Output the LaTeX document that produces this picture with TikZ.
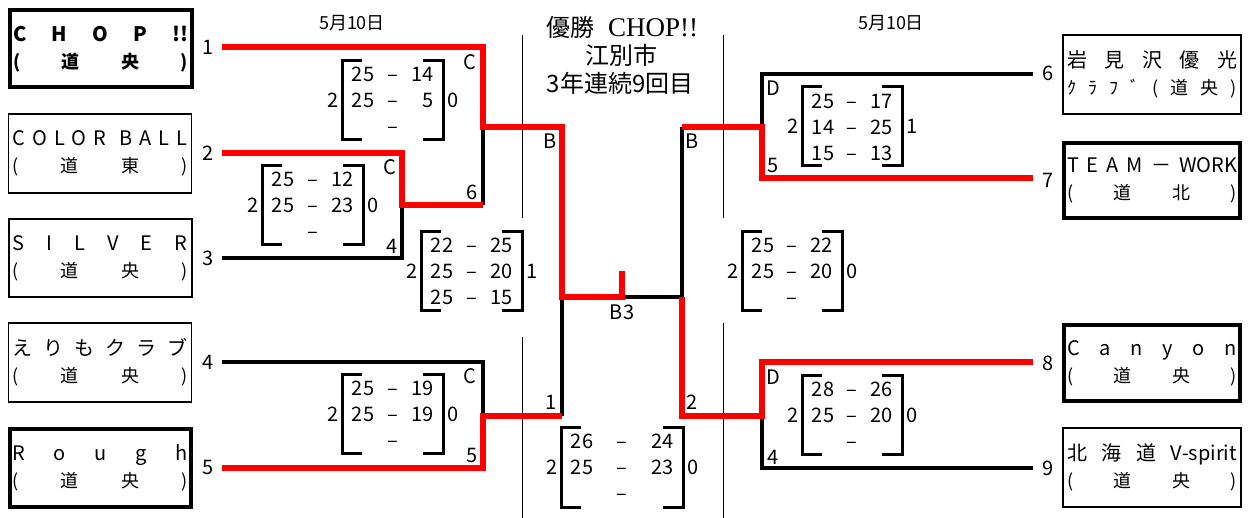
\documentclass[tikz,border=0pt]{standalone}
\usepackage{fontspec}
\setmainfont{Noto Sans CJK JP}
\newfontfamily\titleserif{Liberation Serif}
\tikzset{
  win/.style={draw=red, line width=6pt, line join=miter},
  lose/.style={draw=black, line width=3.2pt, line join=miter},
  brk/.style={draw=black, line width=3pt, line join=miter},
  divider/.style={draw=black, line width=1pt},
  lbl/.style={inner sep=0pt, font=\fontsize{20}{20}\selectfont},
  sc/.style={inner sep=0pt, text height=14.6pt, text depth=0pt, font=\fontsize{20}{20}\selectfont},
  datelbl/.style={inner sep=0pt, font=\fontsize{18}{18}\selectfont},
  tbox/.style={draw, line width=1.2pt, inner sep=0pt, align=center, font=\fontsize{18}{27}\selectfont},
  thickbox/.style={tbox, line width=4pt},
  midbox/.style={tbox, line width=2pt},
}
\newcommand\lineone[1]{\makebox[175pt][s]{\fontsize{20}{27}\selectfont #1}}
\newcommand\linetwo[1]{\makebox[175pt][s]{#1}}
\newcommand\rlineone[1]{\makebox[170pt][s]{\fontsize{20}{27}\selectfont #1}}
\newcommand\rlinetwo[1]{\makebox[170pt][s]{#1}}
\newcommand\brk[6]{%
  \draw[brk] (#2+20,#3) -- (#2,#3) -- (#2,#3+79) -- (#2+20,#3+79);
  \draw[brk] (#2+#4-20,#3) -- (#2+#4,#3) -- (#2+#4,#3+79) -- (#2+#4-20,#3+79);
  \node[sc] (#1l) at (#2-9,#3+39) {#5};
  \node[sc] (#1r) at (#2+#4+10,#3+39) {#6};
}
\newcommand\srow[6]{%
  \node[sc] (#1a) at (#2+21,#3) {#5};
  \node[sc] (#1m) at (#2+#4/2,#3) {–};
  \node[sc,anchor=east] (#1b) at (#2+#4-9,#3) {#6};
}
\newcommand\drow[4]{\node[sc] (#1m) at (#2+#4/2,#3) {–};}
\begin{document}
\begin{tikzpicture}[x=1pt,y=-1pt]
\useasboundingbox (0,0) rectangle (1248,518);
\fill[white] (0,0) rectangle (1248,518);

% ---------- team boxes left ----------
\node[thickbox, minimum width=182pt, minimum height=77pt] (T1) at (100.5,49)
  {\lineone{\bfseries C\hfill H\hfill O\hfill P\hfill !!}\\ \linetwo{\bfseries (\hfill 道\hfill 央\hfill )}};
\node[tbox, minimum width=183pt, minimum height=79pt] (T2) at (100,153.5)
  {\lineone{C\hfill O\hfill L\hfill O\hfill R\hspace{6pt}\hfill B\hfill A\hfill L\hfill L}\\ \linetwo{(\hfill 道\hfill 東\hfill )}};
\node[midbox, minimum width=183pt, minimum height=78pt] (T3) at (100,258)
  {\lineone{S\hfill I\hfill L\hfill V\hfill E\hfill R}\\ \linetwo{(\hfill 道\hfill 央\hfill )}};
\node[tbox, minimum width=183pt, minimum height=79pt] (T4) at (100,362.5)
  {\lineone{え\hfill り\hfill も\hfill ク\hfill ラ\hfill ブ}\\ \linetwo{(\hfill 道\hfill 央\hfill )}};
\node[thickbox, minimum width=181pt, minimum height=77pt] (T5) at (100,468)
  {\lineone{R\hfill o\hfill u\hfill g\hfill h}\\ \linetwo{(\hfill 道\hfill 央\hfill )}};

% ---------- team boxes right ----------
\node[tbox, minimum width=178pt, minimum height=79pt] (T6) at (1152,74.5)
  {\rlineone{岩\hfill 見\hfill 沢\hfill 優\hfill 光}\\ \rlinetwo{ｸ\hfill ﾗ\hfill ﾌ\hfill ﾞ\hfill (\hfill 道\hfill 央\hfill )}};
\node[thickbox, minimum width=176pt, minimum height=75pt] (T7) at (1152,180.5)
  {\rlineone{T\hfill E\hfill A\hfill M\hfill －\hfill WORK}\\ \rlinetwo{(\hfill 道\hfill 北\hfill )}};
\node[thickbox, minimum width=176pt, minimum height=76pt] (T8) at (1152,363)
  {\rlineone{C\hfill a\hfill n\hfill y\hfill o\hfill n}\\ \rlinetwo{(\hfill 道\hfill 央\hfill )}};
\node[tbox, minimum width=178pt, minimum height=79pt] (T9) at (1152,467.5)
  {\rlineone{北\hfill 海\hfill 道\hfill V-spirit}\\ \rlinetwo{(\hfill 道\hfill 央\hfill )}};

% ---------- seed numbers ----------
\node[lbl] (n1) at (208,47) {1};
\node[lbl] (n2) at (208,153) {2};
\node[lbl] (n3) at (208,258) {3};
\node[lbl] (n4) at (208,362) {4};
\node[lbl] (n5) at (208,468) {5};
\node[lbl] (n6) at (1048,73) {6};
\node[lbl] (n7) at (1048,180) {7};
\node[lbl] (n8) at (1048,363) {8};
\node[lbl] (n9) at (1048,468) {9};

% ---------- titles ----------
\node[datelbl] (dateL) at (352,23) {5月10日};
\node[datelbl] (dateR) at (891,23) {5月10日};
\node[inner sep=0pt, font=\fontsize{24}{24}\selectfont] (title1) at (622,27)
  {優勝\hspace{14pt}{\titleserif\fontsize{27}{27}\selectfont CHOP!!}};
\node[inner sep=0pt, font=\fontsize{24}{24}\selectfont] (title2) at (621,55) {江別市};
\node[inner sep=0pt, font=\fontsize{24}{24}\selectfont] (title3) at (620,83) {3年連続9回目};

% ---------- dividers ----------
\coordinate (vLa) at (522,35);  \coordinate (vLb) at (522,218);
\coordinate (vLc) at (522,337); \coordinate (vLd) at (522,518);
\coordinate (vRa) at (723,35);  \coordinate (vRb) at (723,218);
\coordinate (vRc) at (723,323); \coordinate (vRd) at (723,518);
\draw[divider] (vLa) -- (vLb);
\draw[divider] (vLc) -- (vLd);
\draw[divider] (vRa) -- (vRb);
\draw[divider] (vRc) -- (vRd);

% ---------- bracket coordinates ----------
\coordinate (p1) at (222,47);
\coordinate (p2) at (222,153);
\coordinate (p3) at (222,258);
\coordinate (p4) at (222,362);
\coordinate (p5) at (222,468);
\coordinate (p6) at (1033,74);
\coordinate (p7) at (1033,178);
\coordinate (p8) at (1033,362);
\coordinate (p9) at (1033,468);
\coordinate (c23) at (402,205);
\coordinate (j6) at (483,205);
\coordinate (c16) at (483,127);
\coordinate (c45) at (483,416);
\coordinate (j1) at (562,416);
\coordinate (cL) at (562,297);
\coordinate (cM) at (622,297);
\coordinate (cR) at (682,297);
\coordinate (champ) at (622,271);
\coordinate (j7) at (682,127);
\coordinate (d67) at (762,127);
\coordinate (d89) at (762,416);

% losers (black)
\draw[lose] (c16) -- (j6);
\draw[lose] (p3) -| (c23);
\draw[lose] (p4) -| (c45);
\draw[lose] (j1) -- (cL);
\draw[lose] (cM) -- (cR);
\draw[lose] (cR) -- (j7);
\draw[lose] (d67) |- (p6);
\draw[lose] (d89) |- (p9);
% winners (red)
\draw[win] (p1) -| (c16) -| (cL) -- (cM) -- (champ);
\draw[win] (p2) -| (c23) -- (j6);
\draw[win] (p5) -| (c45) -- (j1);
\draw[win] (j7) -- (d67) |- (p7);
\draw[win] (cR) |- (d89) |- (p8);

% ---------- match labels ----------
\node[lbl] (C1) at (470,62) {C};
\node[lbl] (C2) at (390,167) {C};
\node[lbl] (C3) at (470,376) {C};
\node[lbl] (w6) at (472,192) {6};
\node[lbl] (w4) at (392,246) {4};
\node[lbl] (w5) at (472,455) {5};
\node[lbl] (BL) at (550,141) {B};
\node[lbl] (BR) at (692,141) {B};
\node[lbl] (B3) at (622,312) {B3};
\node[lbl] (f1) at (551,402) {1};
\node[lbl] (f2) at (692,402) {2};
\node[lbl] (D1) at (773,88) {D};
\node[lbl] (r5) at (773,166) {5};
\node[lbl] (D2) at (773,377) {D};
\node[lbl] (r4) at (773,457) {4};

% ---------- scores ----------
\brk{s1}{342}{61}{101}{2}{0}
\srow{s1x}{342}{74}{101}{25}{14}
\srow{s1y}{342}{100}{101}{25}{5}
\drow{s1z}{342}{126}{101}

\brk{s2}{262}{166}{101}{2}{0}
\srow{s2x}{262}{179}{101}{25}{12}
\srow{s2y}{262}{205}{101}{25}{23}
\drow{s2z}{262}{231}{101}

\brk{s3}{421}{232}{101}{2}{1}
\srow{s3x}{421}{245}{101}{22}{25}
\srow{s3y}{421}{271}{101}{25}{20}
\srow{s3z}{421}{297}{101}{25}{15}

\brk{s4}{342}{375}{101}{2}{0}
\srow{s4x}{342}{388}{101}{25}{19}
\srow{s4y}{342}{414}{101}{25}{19}
\drow{s4z}{342}{440}{101}

\brk{s5}{561}{428}{122}{2}{0}
\srow{s5x}{561}{441}{122}{26}{24}
\srow{s5y}{561}{467}{122}{25}{23}
\drow{s5z}{561}{493}{122}

\brk{s6}{742}{232}{100}{2}{0}
\srow{s6x}{742}{245}{100}{25}{22}
\srow{s6y}{742}{271}{100}{25}{20}
\drow{s6z}{742}{297}{100}

\brk{s7}{802}{87}{100}{2}{1}
\srow{s7x}{802}{101}{100}{25}{17}
\srow{s7y}{802}{127}{100}{14}{25}
\srow{s7z}{802}{153}{100}{15}{13}

\brk{s8}{802}{376}{100}{2}{0}
\srow{s8x}{802}{389}{100}{28}{26}
\srow{s8y}{802}{415}{100}{25}{20}
\drow{s8z}{802}{441}{100}
\end{tikzpicture}
\end{document}
